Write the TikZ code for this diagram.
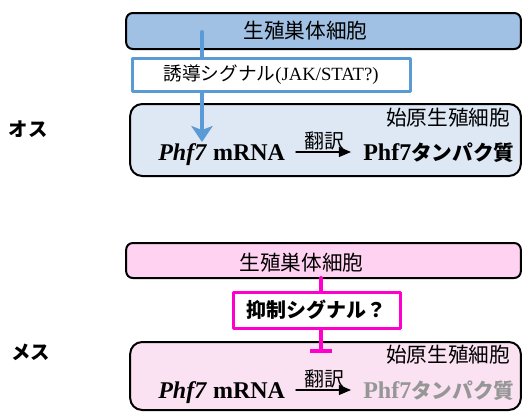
\documentclass[tikz,border=0pt]{standalone}
\usepackage{fontspec}
\setmainfont{Liberation Serif}
\newfontfamily\jp{Noto Sans CJK JP}
\usetikzlibrary{arrows,arrows.meta}
\definecolor{gonadblue}{RGB}{160,192,228}
\definecolor{pgcblue}{RGB}{221,232,244}
\definecolor{sigblue}{RGB}{91,155,213}
\definecolor{gonadpink}{RGB}{255,210,242}
\definecolor{pgcpink}{RGB}{250,226,242}
\definecolor{inhpink}{RGB}{255,0,204}
\definecolor{protgray}{RGB}{150,150,150}
\begin{document}
\begin{tikzpicture}[line cap=round,line join=round,>=triangle 45,x=0.75pt,y=0.75pt,
	gonad/.style={draw=black,line width=1.5pt,rounded corners=5pt,minimum width=296pt,inner sep=0pt},
	pgc/.style={draw=black,line width=1.5pt,rounded corners=9pt,minimum width=293pt,inner sep=0pt},
	signal/.style={fill=white,line width=2.25pt,inner sep=0pt},
	jptext/.style={font=\jp\fontsize{15.5}{18}\selectfont},
	mrna/.style={anchor=west,inner sep=0pt,text height=13pt,text depth=0pt,font=\fontsize{18}{20}\selectfont\bfseries},
	sex/.style={font=\jp\bfseries\fontsize{14.5}{16}\selectfont}]
	\useasboundingbox (0,0) rectangle (522,412);
	\clip (0,0) rectangle (522,412);
	% オス
	\node[sex] (male) at (28,283) {オス};
	\node[gonad,fill=gonadblue,minimum height=27pt] (gonadM) at (323.5,381) {};
	\node[jptext] (gonadMtxt) at (305.5,381) {生殖巣体細胞};
	\node[pgc,fill=pgcblue,minimum height=54pt] (pgcM) at (325.5,272) {};
	\node[jptext,anchor=east] (pgcMtxt) at (515,294) {始原生殖細胞};
	\coordinate (indTop) at (202,380);
	\coordinate (indTip) at (202,270);
	\draw [-{Stealth[length=12pt,width=16pt,inset=3pt]},sigblue,line width=3pt] (indTop) -- (indTip);
	\node[signal,draw=sigblue,minimum width=208.5pt,minimum height=24.75pt,font=\fontsize{14}{16}\selectfont] (indM) at (271,337.5) {{\jp 誘導シグナル}(JAK/STAT?)};
	\node[mrna] (mrnaM) at (158,260) {\textit{Phf7} mRNA};
	\node[mrna] (protM) at (363,260) {Phf7{\jp\fontsize{15.5}{18}\selectfont タンパク質}};
	\draw [->,line width=1.1pt,shorten <=8pt,shorten >=9pt] (mrnaM) -- node[above=0pt,inner sep=1pt,font=\jp\fontsize{15}{17}\selectfont] (transM) {翻訳} (protM);
	% メス
	\node[sex] (female) at (31,60) {メス};
	\node[gonad,fill=gonadpink,minimum height=26.25pt] (gonadF) at (323.5,151.5) {};
	\node[jptext] (gonadFtxt) at (301.5,149) {生殖巣体細胞};
	\node[pgc,fill=pgcpink,minimum height=51pt] (pgcF) at (325.5,36) {};
	\node[jptext,anchor=east] (pgcFtxt) at (515,57) {始原生殖細胞};
	\coordinate (inhTop) at (321,134);
	\coordinate (inhEnd) at (321,59);
	\draw [-{Bar[width=17pt]},inhpink,line width=3pt] (inhTop) -- (inhEnd);
	\node[signal,draw=inhpink,minimum width=125.25pt,minimum height=27pt,font=\jp\bfseries\fontsize{15}{17}\selectfont] (inhF) at (316.5,102) {抑制シグナル？};
	\node[mrna] (mrnaF) at (158,22) {\textit{Phf7} mRNA};
	\node[mrna,text=protgray] (protF) at (363,22) {Phf7{\jp\fontsize{15.5}{18}\selectfont タンパク質}};
	\draw [->,line width=1.1pt,shorten <=8pt,shorten >=9pt] (mrnaF) -- node[above=0pt,inner sep=1pt,font=\jp\fontsize{15}{17}\selectfont] (transF) {翻訳} (protF);
\end{tikzpicture}
\end{document}
